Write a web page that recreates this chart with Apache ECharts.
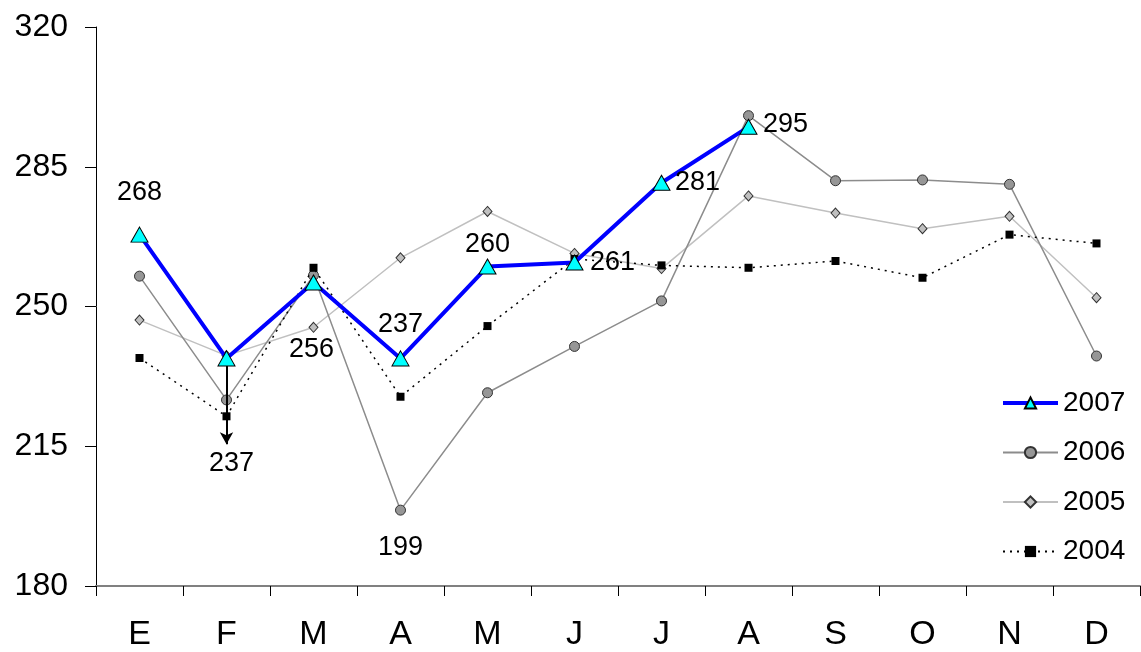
<!DOCTYPE html>
<html>
<head>
<meta charset="utf-8">
<script src="https://cdn.jsdelivr.net/npm/echarts@6/dist/echarts.min.js"></script>
<style>
html,body{margin:0;padding:0;background:#fff;}
#chart{width:1141px;height:652px;}
</style>
</head>
<body>
<div id="chart"></div>
<script>
const months = ['E','F','M','A','M','J','J','A','S','O','N','D'];
const yTicks = [180, 215, 250, 285, 320];
const s2007 = [268, 237, 256, 237, 260, 261, 281, 295, null, null, null, null];
const s2006 = [257.6, 226.6, 257.8, 199, 228.4, 240, 251.4, 297.8, 281.5, 281.7, 280.6, 237.6];
const s2005 = [246.6, 237.7, 244.8, 262.2, 273.8, 263.3, 259.5, 277.7, 273.4, 269.5, 272.6, 252.2];
const s2004 = [237.1, 222.5, 259.7, 227.4, 245.1, 261.9, 260.3, 259.7, 261.4, 257.2, 268, 265.8];

const labelOffsets2007 = [[0,-42],[5,105],[-2,67],[0,-34],[0,-22],[38,0],[36,0],[37,-2]];
const FONT = 'Liberation Sans, Arial, sans-serif';
const labelFont = {fontFamily:FONT, fontSize:27, color:'#000'};

const data2007 = s2007.map((v,i)=>{
  if (v === null) return null;
  return {value:v, label:{show:true, position:'inside', offset:labelOffsets2007[i], formatter:String(v), ...labelFont}};
});
const data2006 = s2006.map((v,i)=>{
  if (i===3) return {value:v, label:{show:true, position:'inside', offset:[0,37], formatter:'199', ...labelFont}};
  return v;
});

const chart = echarts.init(document.getElementById('chart'));
chart.setOption({
  animation:false,
  backgroundColor:'#fff',
  grid:{left:96, right:1, top:27, bottom:65, containLabel:false},
  legend:{
    orient:'vertical', left:996, top:383,
    itemWidth:55, itemHeight:14, itemGap:19.5,
    textStyle:{fontFamily:FONT, fontSize:28, lineHeight:30, color:'#000', padding:0},
    data:[
      {name:'2007', lineStyle:{width:4, color:'#0000ff'}},
      {name:'2006'},
      {name:'2005'},
      {name:'2004'}
    ]
  },
  xAxis:{
    type:'category', data:months, boundaryGap:true,
    axisLine:{lineStyle:{color:'#808080', width:2}},
    axisTick:{show:true, length:10, inside:false, lineStyle:{color:'#000', width:1}},
    axisLabel:{fontFamily:FONT, fontSize:34, color:'#000', margin:32, interval:0},
    splitLine:{show:false}
  },
  yAxis:{
    type:'value', min:yTicks[0], max:yTicks[yTicks.length-1], interval:35,
    axisLine:{show:true, lineStyle:{color:'#000', width:1}},
    axisTick:{show:true, length:11, lineStyle:{color:'#000'}},
    axisLabel:{fontFamily:FONT, fontSize:32, color:'#000', margin:28},
    splitLine:{show:false}
  },
  series:[
    {
      name:'2007', type:'line', data:data2007, z:5,
      lineStyle:{color:'#0000ff', width:4},
      symbol:'triangle', symbolSize:[17,15],
      itemStyle:{color:'#00ffff', borderColor:'#000', borderWidth:1},
      markLine:{
        silent:true, symbol:['none','arrow'], symbolSize:[10,12],
        lineStyle:{color:'#000', width:2, type:'solid'},
        label:{show:false},
        data:[[{coord:['F',235.5]},{coord:['F',215.5]}]]
      }
    },
    {
      name:'2006', type:'line', data:data2006, z:3,
      lineStyle:{color:'#8c8c8c', width:1.5},
      symbol:'circle', symbolSize:10,
      itemStyle:{color:'#969696', borderColor:'#333', borderWidth:1}
    },
    {
      name:'2005', type:'line', data:s2005, z:2,
      lineStyle:{color:'#c0c0c0', width:1.5},
      symbol:'diamond', symbolSize:[9,10],
      itemStyle:{color:'#c0c0c0', borderColor:'#333', borderWidth:1}
    },
    {
      name:'2004', type:'line', data:s2004, z:4,
      lineStyle:{color:'#000', width:1.5, type:[2,5]},
      symbol:'rect', symbolSize:8,
      itemStyle:{color:'#000', borderColor:'#000', borderWidth:0}
    }
  ]
});
</script>
</body>
</html>
